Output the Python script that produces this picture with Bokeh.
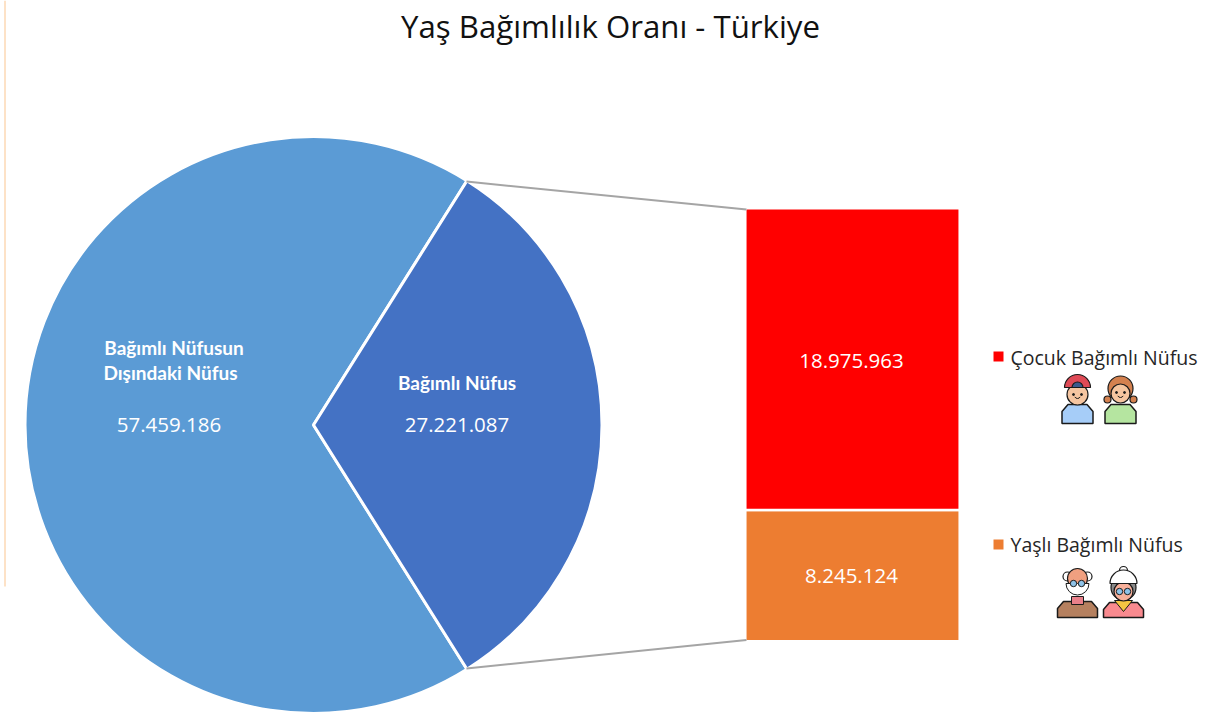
import math
from bokeh.plotting import figure
from bokeh.models import Range1d
from bokeh.core.properties import value
from bokeh.embed import file_html
from bokeh.resources import INLINE

# ---- data ----
pie_labels = ["Bağımlı Nüfus", "Bağımlı Nüfusun Dışındaki Nüfus"]
pie_values = [27221087, 57459186]
pie_colors = ["#4472C4", "#5B9BD5"]
bar_labels = ["Yaşlı Bağımlı Nüfus", "Çocuk Bağımlı Nüfus"]
bar_values = [8245124, 18975963]
bar_colors = ["#ED7D31", "#FF0000"]
title = "Yaş Bağımlılık Oranı - Türkiye"

def fmt(v):
    return f"{v:,}".replace(",", ".")

W, H = 1208, 715
FONT = "Open Sans"
LABEL = "Lato"
Y = lambda y: 715 - y   # page row -> y data

p = figure(width=W, height=H, output_backend="svg", toolbar_location=None,
           x_range=Range1d(0, W), y_range=Range1d(Y(H), Y(0)),
           min_border=0, outline_line_color=None)
p.axis.visible = False
p.grid.visible = False
p.background_fill_color = "white"

# thin stray edge line of the source image
p.line([4.5, 4.5], [Y(0), Y(586)], line_color="#FDD9B5", line_width=1.5)

# pie
cx, cy, R = 313, Y(424.5), 288.5
total = sum(pie_values)
half = pie_values[0] / total * math.pi
p.wedge(x=cx, y=cy, radius=R, start_angle=half, end_angle=2 * math.pi - half,
        fill_color=pie_colors[1], line_color="white", line_width=3)
p.wedge(x=cx, y=cy, radius=R, start_angle=-half, end_angle=half,
        fill_color=pie_colors[0], line_color="white", line_width=3)

# stacked bar on its own scale
bar_left, bar_right, bar_bottom, bar_top = 744.8, 959.2, Y(640.7), Y(207.8)
scale = sum(bar_values) / (bar_top - bar_bottom)
p.extra_y_ranges["bar"] = Range1d((p.y_range.start - bar_bottom) * scale,
                                  (p.y_range.end - bar_bottom) * scale)
p.quad(left=bar_left, right=bar_right, bottom=[0, bar_values[0]],
       top=[bar_values[0], sum(bar_values)], fill_color=bar_colors,
       line_color="white", line_width=2.5, y_range_name="bar")

# connectors
px, py_t, py_b = cx + (R - 1) * math.cos(half), cy + (R - 1) * math.sin(half), cy - (R - 1) * math.sin(half)
p.line([px, 746], [py_t, Y(209)], line_color="#A5A5A5", line_width=2)
p.line([px, 746], [py_b, Y(639.5)], line_color="#A5A5A5", line_width=2)

def text(x, y, s, size, color="#FFFFFF", font=FONT, style="normal", align="center"):
    p.text([x], [Y(y)], text=[s], text_font=value(font), text_font_size=f"{size}px",
           text_color=color, text_font_style=style, text_align=align,
           text_baseline="middle")

text(610, 25.5, title, 31.2, "#111111")
text(173.5, 346.5, "Bağımlı Nüfusun", 19, font=LABEL, style="bold")
text(170, 371.5, "Dışındaki Nüfus", 19, font=LABEL, style="bold")
text(168.5, 424.5, fmt(pie_values[1]), 20.5)
text(456.5, 381.5, pie_labels[0], 19, font=LABEL, style="bold")
text(456.5, 424.5, fmt(pie_values[0]), 20.5)
text(851, 360, fmt(bar_values[1]), 20.5)
text(851, 575, fmt(bar_values[0]), 20.5)

# legend
p.quad(left=[993, 993], right=[1003, 1003], bottom=[Y(361), Y(549)], top=[Y(351), Y(539)],
       fill_color=[bar_colors[1], bar_colors[0]], line_color=None)
text(1010, 356.5, bar_labels[1], 19.5, "#262626", align="left")
text(1010, 543.5, bar_labels[0], 19.5, "#262626", align="left")

# icons
INK = "#1A1A1A"
def circ(x, y, r, fill, lw=1.2):
    p.circle([x], [Y(y)], radius=r, fill_color=fill, line_color=INK, line_width=lw)

def body(x, top, bottom, half_w, fill):
    xs = [x - half_w, x - half_w, x - half_w + 6, x + half_w - 6, x + half_w, x + half_w]
    ys = [bottom, top + 7, top, top, top + 7, bottom]
    p.patch(xs, [Y(v) for v in ys], fill_color=fill, line_color=INK, line_width=1.5)

def cap(x, y, r, fill):
    p.wedge([x], [Y(y)], radius=r, start_angle=0, end_angle=math.pi,
            fill_color=fill, line_color=INK, line_width=1.2)

def smile(x, y):
    p.arc([x], [Y(y)], radius=3, start_angle=math.pi * 1.15, end_angle=math.pi * 1.85,
          line_color=INK, line_width=1)

def eyes(x, y, gap=4, glasses=False):
    if glasses:
        p.circle([x - gap, x + gap], [Y(y)] * 2, radius=3.2, fill_color="#8FC3E8",
                 line_color=INK, line_width=1)
    else:
        p.scatter([x - gap, x + gap], [Y(y)] * 2, size=2, color=INK)

SKIN = "#F5C5A0"
# boy
body(1077, 404, 423, 15.5, "#A6CDF8")
circ(1077, 394, 10.5, SKIN)
cap(1077, 387, 13, "#DF4A56")
cap(1077, 387, 5.5, "#3B5A8C")
eyes(1077, 394); smile(1077, 395)
# girl
circ(1107, 399, 3.5, "#D4814F"); circ(1133, 399, 3.5, "#D4814F")
body(1120, 404, 423, 15.5, "#B5E5A0")
circ(1120, 388, 12.5, "#D4814F")
circ(1120, 393, 9.5, SKIN)
eyes(1120, 392); smile(1120, 394)
# old man: side hair, bald head, white beard
body(1077, 601, 617, 20, "#B5805F")
p.quad(left=[1071], right=[1083], bottom=[Y(604)], top=[Y(596)], fill_color="#E9808A",
       line_color=INK, line_width=1)
circ(1067, 576, 4.5, "#FFFFFF"); circ(1087, 576, 4.5, "#FFFFFF")
circ(1077, 578, 10, "#F0A080")
p.wedge([1077], [Y(583)], radius=11.5, start_angle=math.pi, end_angle=2 * math.pi,
        fill_color="#FFFFFF", line_color=INK, line_width=1)
eyes(1077, 583, 4, True)
# old woman: grey hair, white bun
body(1123, 602, 617, 20, "#F98A8F")
p.patch([1114, 1123, 1132], [Y(600), Y(611), Y(600)], fill_color="#F5C542", line_color=INK, line_width=1)
circ(1123, 587, 12.5, "#8A8A8A")
circ(1123, 591, 9.5, "#F8B09A")
circ(1123, 570, 4, "#FFFFFF")
cap(1123, 583, 13.5, "#FFFFFF")
eyes(1123, 591, 4, True)

open("out.html", "w").write(file_html(p, INLINE))
